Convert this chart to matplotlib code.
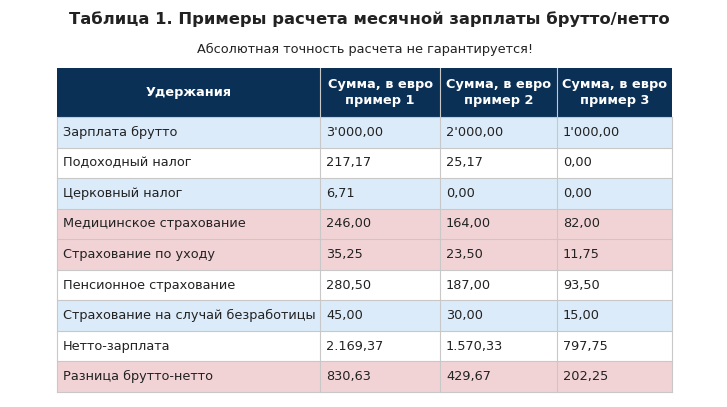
import matplotlib
matplotlib.use("Agg")
import matplotlib.pyplot as plt
from matplotlib.patches import Rectangle

title = "Таблица 1. Примеры расчета месячной зарплаты брутто/нетто"
subtitle = "Абсолютная точность расчета не гарантируется!"
headers = ["Удержания", "Сумма, в евро\nпример 1", "Сумма, в евро\nпример 2", "Сумма, в евро\nпример 3"]
categories = ["Зарплата брутто", "Подоходный налог", "Церковный налог", "Медицинское страхование",
              "Страхование по уходу", "Пенсионное страхование", "Страхование на случай безработицы",
              "Нетто-зарплата", "Разница брутто-нетто"]
example1 = ["3'000,00", "217,17", "6,71", "246,00", "35,25", "280,50", "45,00", "2.169,37", "830,63"]
example2 = ["2'000,00", "25,17", "0,00", "164,00", "23,50", "187,00", "30,00", "1.570,33", "429,67"]
example3 = ["1'000,00", "0,00", "0,00", "82,00", "11,75", "93,50", "15,00", "797,75", "202,25"]
row_kind = ["b", "w", "b", "p", "p", "w", "b", "w", "p"]

colors = {"b": "#dcebf9", "w": "#ffffff", "p": "#f2d3d5"}
W, H = 727, 407
fig = plt.figure(figsize=(W/100, H/100), dpi=100)
ax = fig.add_axes([0, 0, 1, 1])
ax.set_xlim(0, W); ax.set_ylim(H, 0); ax.axis("off")

ax.text(369, 19, title, ha="center", va="center", fontsize=11.8, fontweight="bold", color="#222222")
ax.text(365, 49, subtitle, ha="center", va="center", fontsize=9.3, color="#222222")

cols = [57, 320, 440, 557, 672]
top, hb = 68, 117
rh = (392 - hb) / 9
ax.add_patch(Rectangle((cols[0], top), cols[-1]-cols[0], hb-top, fc="#0b3056", ec="none"))
for j, h in enumerate(headers):
    cx = (cols[j]+cols[j+1])/2
    ax.text(cx, (top+hb)/2, h, ha="center", va="center", fontsize=9.3, fontweight="bold",
            color="white", linespacing=1.35)
for j in range(1, 4):
    ax.plot([cols[j]]*2, [top, hb], color="#c8c8c8", lw=0.8)

for i, cat in enumerate(categories):
    y0 = hb + i*rh
    ax.add_patch(Rectangle((cols[0], y0), cols[-1]-cols[0], rh, fc=colors[row_kind[i]], ec="none"))
    cy = y0 + rh/2
    for j, v in enumerate([cat, example1[i], example2[i], example3[i]]):
        ax.text(cols[j]+6, cy, v, ha="left", va="center", fontsize=9.3, color="#222222")
for i in range(10):
    y = hb + i*rh
    ax.plot([cols[0], cols[-1]], [y, y], color="#c8c8c8", lw=0.8)
for x in cols:
    ax.plot([x, x], [hb, 392], color="#c8c8c8", lw=0.8)

fig.savefig("out.png", dpi=100)
